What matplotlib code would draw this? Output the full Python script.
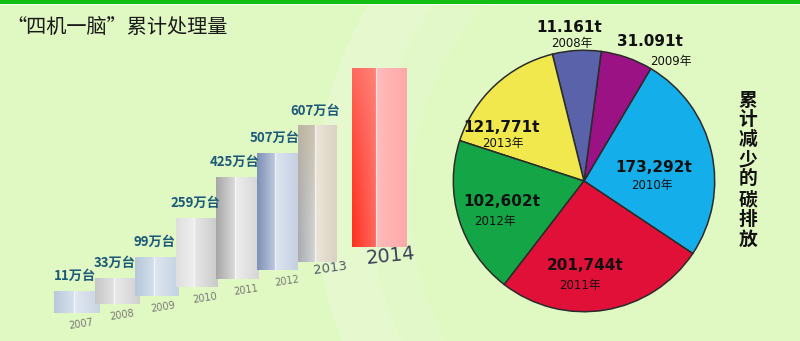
import numpy as np
import matplotlib
matplotlib.use("Agg")
import matplotlib.pyplot as plt
from matplotlib.colors import to_rgb
from matplotlib.patches import Ellipse, Wedge

# ---------------- data ----------------
years = ["2007", "2008", "2009", "2010", "2011", "2012", "2013", "2014"]
units = [11, 33, 99, 259, 425, 507, 607, 830]          # 万台 (2014 unlabeled, estimated from bar)
unit_labels = ["11万台", "33万台", "99万台", "259万台", "425万台", "507万台", "607万台", ""]

pie_years = ["2010年", "2009年", "2008年", "2013年", "2012年", "2011年"]
pie_texts = ["173,292t", "31.091t", "11.161t", "121,771t", "102,602t", "201,744t"]
pie_share = [93.0, 23.1, 21.6, 58.0, 70.4, 93.9]      # slice sizes as drawn (degrees)
pie_colors = ["#14AEEA", "#9A1283", "#5A62AA", "#F0E84C", "#13A546", "#E01038"]

title = "“四机一脑”累计处理量"
side_title = "累计减少的碳排放"

# ---------------- figure ----------------
W, H = 800, 341
fig = plt.figure(figsize=(W / 100, H / 100), dpi=100)
fig.patch.set_facecolor("#E0F8C1")

bg = fig.add_axes([0, 0, 1, 1], zorder=0)
bg.set_xlim(0, W); bg.set_ylim(H, 0); bg.axis("off")
# soft light sweeps in background
bg.add_patch(Wedge((700, 200), 385, 120, 240, width=55, color="white", alpha=0.22, lw=0))
bg.add_patch(Wedge((700, 200), 330, 120, 240, width=40, color="white", alpha=0.12, lw=0))
bg.add_patch(Wedge((760, 560), 380, 150, 200, width=60, color="white", alpha=0.25, lw=0))
bg.axhspan(0, 3.6, color="#12BE12", lw=0)
bg.axhspan(3.6, 5.0, color="#F4FFF0", lw=0)
bg.set_xlim(0, W); bg.set_ylim(H, 0)

# ---------------- pie ----------------
cx, cy, r = 584, 181, 132
pax = fig.add_axes([(cx - r) / W, (H - cy - r) / H, 2 * r / W, 2 * r / H], zorder=1)
pax.pie(pie_share, colors=pie_colors, startangle=-33.7, counterclock=True,
        radius=1.0, wedgeprops=dict(edgecolor="#2B2B2B", linewidth=1.1))
pax.set_xlim(-1.01, 1.01); pax.set_ylim(-1.01, 1.01)
pax.axis("off")

# ---------------- top overlay for bars & text ----------------
ax = fig.add_axes([0, 0, 1, 1], zorder=2)
ax.set_xlim(0, W); ax.set_ylim(H, 0); ax.axis("off")
ax.patch.set_visible(False)

face_cols = [
    (["#B8C8DA", "#D8E2EE"], ["#E2E8F0", "#C8D4E2"]),
    (["#C6C6C6", "#E4E4E4"], ["#EAEAEA", "#D0D0D0"]),
    (["#B6C8DA", "#D4E0EC"], ["#DEE6F0", "#C4D2E2"]),
    (["#DEDEDE", "#F0F0F0"], ["#E8E8E8", "#CACACA"]),
    (["#A6A6A6", "#DADADA"], ["#EEEEEE", "#D6D6D6"]),
    (["#7E90B4", "#BCC8DE"], ["#DCE4F0", "#C6D0E2"]),
    (["#A8ACB0", "#D4D6D8"], ["#ECE6DA", "#DAD2C2"]),
    (["#FF3020", "#FF6A60"], ["#FFBCBC", "#FFA8A8"]),
]
top_tint = [None, None, None, None, None, None, "#C8B898", "#FF9088"]


def grad_fill(patch, x0, x1, ytop, ybot, c_left, c_right, c_top=None):
    n = 64
    u = np.linspace(0, 1, n)
    cl, cr = np.array(to_rgb(c_left)), np.array(to_rgb(c_right))
    row = cl[None, :] * (1 - u[:, None]) + cr[None, :] * u[:, None]
    img = np.repeat(row[None, :, :], 48, axis=0)
    if c_top is not None:
        v = np.linspace(1, 0, 48)[:, None, None] ** 1.5 * 0.6
        img = img * (1 - v) + np.array(to_rgb(c_top))[None, None, :] * v
    im = ax.imshow(img, extent=[x0, x1, ybot, ytop], origin="upper",
                   aspect="auto", zorder=3, interpolation="bilinear")
    im.set_clip_path(patch)


k_px, h0 = 0.192, 20.0
for i, (yr, v) in enumerate(zip(years, units)):
    last = i == len(years) - 1
    xc = 77 + 40 * i + (22 if last else 0)
    w = 54 if last else 46 - 1.2 * i
    base = 313 - 8.5 * i - (6 if last else 0)
    h = h0 + k_px * v
    x0 = xc - w / 2
    xd = x0 + 0.44 * w
    (lc, rc) = face_cols[i]
    bl = ax.bar(x0, -h, width=xd - x0, bottom=base, align="edge",
                color="none", lw=0, zorder=2)[0]
    br = ax.bar(xd, -h, width=x0 + w - xd, bottom=base, align="edge",
                color="none", lw=0, zorder=2)[0]
    grad_fill(bl, x0, xd, base - h, base, lc[0], lc[1], c_top=top_tint[i])
    grad_fill(br, xd, x0 + w, base - h, base, rc[0], rc[1])
    ax.plot([xd, xd], [base - h, base], color="white", lw=0.9, alpha=0.6, zorder=4)
    # year label below bar
    if last:
        ax.text(xc + 12, base + 8, yr, fontsize=14, color="#3A4058",
                family="DejaVu Sans", rotation=6, ha="center", va="center", zorder=5)
    elif i == 6:
        ax.text(xc + 13, base + 6, yr, fontsize=9.5, color="#505a68",
                family="DejaVu Sans", rotation=8, ha="center", va="center", zorder=5)
    else:
        ax.text(xc + 4 + 1.2 * i, base + 11, yr, fontsize=7, color="#787878",
                family="DejaVu Sans", rotation=9, ha="center", va="center", zorder=5)
    if unit_labels[i]:
        ax.text(xc - 2, base - h - 15, unit_labels[i], fontsize=9.5,
                color="#1C5A7A", fontweight="bold",
                family=["Noto Sans CJK SC", "DejaVu Sans"],
                ha="center", va="center", zorder=5)

ax.set_xlim(0, W); ax.set_ylim(H, 0)

# title
ax.text(6, 27, title, fontsize=14.5, color="#1A1A1A",
        family=["Noto Sans CJK SC", "DejaVu Sans"], ha="left", va="center", zorder=5)

# side title (vertical)
for j, ch in enumerate(side_title):
    ax.text(748, 100 + 19.9 * j, ch, fontsize=13.5, color="#111111", fontweight="bold",
            family=["Noto Sans CJK SC"], ha="center", va="center", zorder=5)

# pie labels
num_pos = [(654, 167), (650, 42), (569, 27), (502, 127), (502, 201), (585, 266)]
yr_pos = [(652, 186), (671, 62), (572, 44), (503, 144), (495, 221), (580, 285)]
for t, yl, p, q in zip(pie_texts, pie_years, num_pos, yr_pos):
    ax.text(p[0], p[1], t, fontsize=11, fontweight="bold", color="#111111",
            family="DejaVu Sans", ha="center", va="center", zorder=5)
    ax.text(q[0], q[1], yl, fontsize=8.5, color="#111111",
            family=["DejaVu Sans", "Noto Sans CJK SC"], ha="center", va="center", zorder=5)

fig.savefig("out.png", dpi=100, facecolor=fig.get_facecolor())
